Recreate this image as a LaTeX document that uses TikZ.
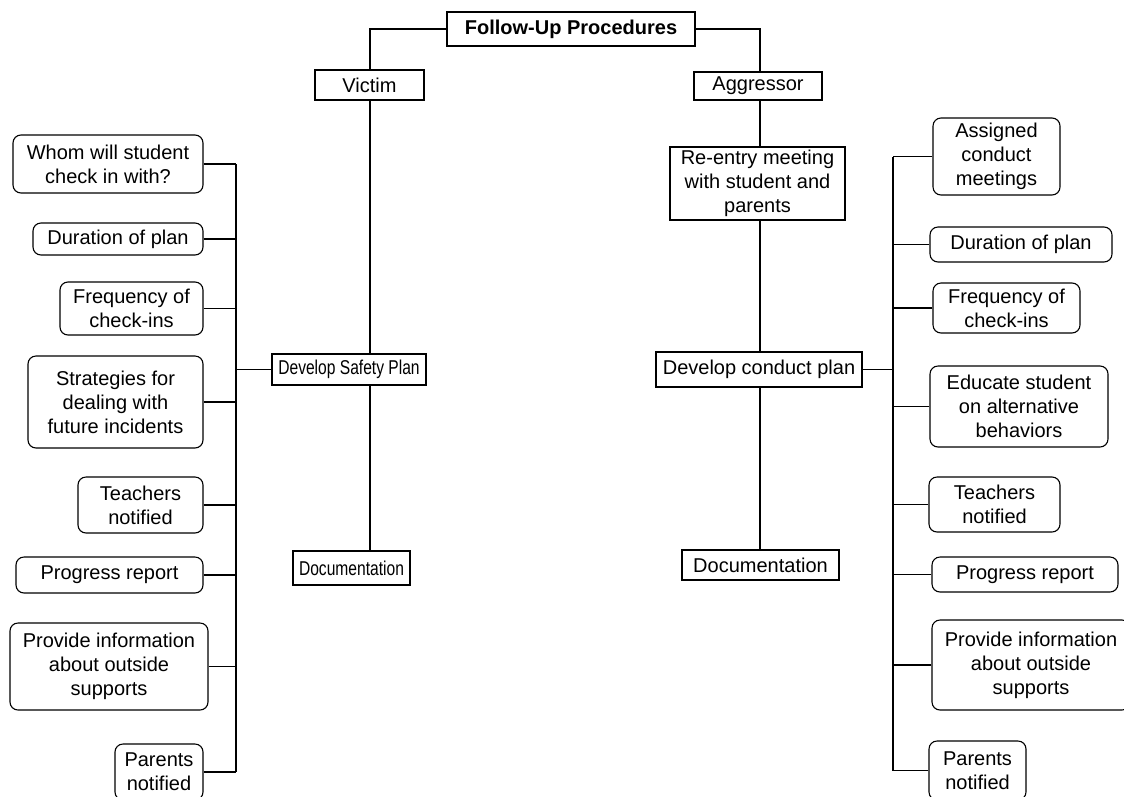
\documentclass[tikz,border=0pt]{standalone}
\usepackage{fontspec}
\setmainfont{Liberation Sans}
\usepackage{graphicx}
\usepackage{tikz}
\usetikzlibrary{positioning}
\tikzset{
  box/.style={draw=black,line width=1.1pt,fill=white,inner sep=0pt,align=center,
    font=\fontsize{20}{24}\selectfont},
  leaf/.style={box,rounded corners=8pt},
  wire/.style={line width=1.1pt}
}
\newcommand{\narrowtext}[1]{\scalebox{0.78}[1]{#1}}

\begin{document}
\begin{tikzpicture}[x=1pt,y=-1pt]
\useasboundingbox (0,0) rectangle (1124,796);
% \draw[help lines] (0,0) grid (1124,796);
\node (top) [box,minimum width=248pt,minimum height=34pt,font=\fontsize{20}{24}\selectfont\bfseries] at (571,29) {Follow-Up Procedures};
\node (victim) [box,minimum width=109pt,minimum height=30pt] at (369.5,85) {Victim};
\node (aggr) [box,minimum width=128pt,minimum height=28pt] at (758,86) {Aggressor};
%
\node (safety) [box,minimum width=154pt,minimum height=31pt] at (349,369.5) {\narrowtext{Develop Safety Plan}};
\node (vdoc) [box,minimum width=117pt,minimum height=34pt] at (351.5,568) {\narrowtext{Documentation}};
\node (reentry) [box,minimum width=175pt,minimum height=73pt] at (757.5,183.5) {Re-entry meeting\\with student and\\parents};
\node (conduct) [box,minimum width=206pt,minimum height=35pt] at (759,369.5) {Develop conduct plan};
\node (adoc) [box,minimum width=157pt,minimum height=30pt] at (760.5,565) {Documentation};
%
% victim side
\node (l1) [leaf,minimum width=190pt,minimum height=58pt] at (108,164) {Whom will student\\check in with?};
\node (l2) [leaf,minimum width=170pt,minimum height=32pt] at (118,239) {Duration of plan};
\node (l3) [leaf,minimum width=143pt,minimum height=53pt] at (131.5,308.5) {Frequency of\\check-ins};
\node (l4) [leaf,minimum width=175pt,minimum height=92pt] at (115.5,402) {Strategies for\\dealing with\\future incidents};
\node (l5) [leaf,minimum width=125pt,minimum height=56pt] at (140.5,505) {Teachers\\notified};
\node (l6) [leaf,minimum width=187pt,minimum height=36pt] at (109.5,575) {Progress report};
\node (l7) [leaf,minimum width=198pt,minimum height=87pt] at (109,666.5) {Provide information\\about outside\\supports};
\node (l8) [leaf,minimum width=88pt,minimum height=56pt] at (159,772) {Parents\\notified};
%
% aggressor side
\node (r1) [leaf,minimum width=127pt,minimum height=77pt] at (996.5,156.5) {Assigned\\conduct\\meetings};
\node (r2) [leaf,minimum width=182pt,minimum height=35pt] at (1021,244.5) {Duration of plan};
\node (r3) [leaf,minimum width=147pt,minimum height=50pt] at (1006.5,308) {Frequency of\\check-ins};
\node (r4) [leaf,minimum width=178pt,minimum height=81pt] at (1019,406.5) {Educate student\\on alternative\\behaviors};
\node (r5) [leaf,minimum width=131pt,minimum height=55pt] at (994.5,504.5) {Teachers\\notified};
\node (r6) [leaf,minimum width=186pt,minimum height=35pt] at (1025,574.5) {Progress report};
\node (r7) [leaf,minimum width=198pt,minimum height=90pt] at (1031,665) {Provide information\\about outside\\supports};
\node (r8) [leaf,minimum width=97pt,minimum height=59pt] at (977.5,770.5) {Parents\\notified};
%
\coordinate (lspine) at (236,0);
\coordinate (rspine) at (893,0);
\coordinate (vline) at (370,0);
\coordinate (aline) at (760,0);
%
\draw[wire] (top.west) -| (vline |- victim.north);
\draw[wire] (top.east) -| (aline |- aggr.north);
\draw[wire] (vline |- victim.south) -- (vline |- safety.north);
\draw[wire] (vline |- safety.south) -- (vline |- vdoc.north);
\draw[wire] (aline |- aggr.south) -- (aline |- reentry.north);
\draw[wire] (aline |- reentry.south) -- (aline |- conduct.north);
\draw[wire] (aline |- conduct.south) -- (aline |- adoc.north);
%
\draw[wire] (lspine |- l1.east) -- (lspine |- l8.east);
\draw[wire] (safety.west) -- (lspine |- safety.west);
\foreach \n in {l1,l2,l3,l4,l5,l6,l7,l8}
  \draw[wire] (\n.east) -- (lspine |- \n.east);
%
\draw[wire] (rspine |- r1.west) -- (rspine |- r8.west);
\draw[wire] (conduct.east) -- (rspine |- conduct.east);
\foreach \n in {r1,r2,r3,r4,r5,r6,r7,r8}
  \draw[wire] (\n.west) -- (rspine |- \n.west);
\end{tikzpicture}
\end{document}
